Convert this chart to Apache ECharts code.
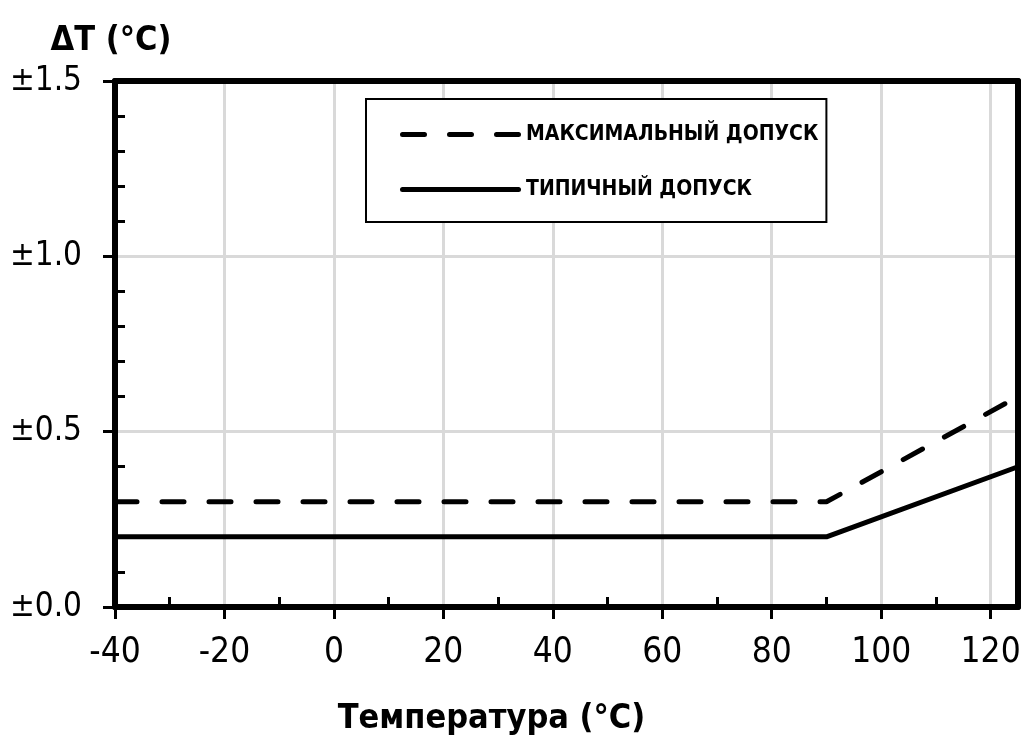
<!DOCTYPE html>
<html>
<head>
<meta charset="utf-8">
<script src="https://cdn.jsdelivr.net/npm/echarts@6/dist/echarts.min.js"></script>
<style>
  html, body { margin: 0; padding: 0; background: #fff; }
  #chart { width: 1026px; height: 749px; }
</style>
</head>
<body>
<div id="chart"></div>
<script>
// values
const tempX = [-40, 90, 125];
const maxTol = [0.3, 0.3, 0.6];
const typTol = [0.2, 0.2, 0.4];
const xTicks = [-40, -20, 0, 20, 40, 60, 80, 100, 120];
const xMinorTicks = [-30, -10, 10, 30, 50, 70, 90, 110];
const yTicks = [0, 0.5, 1.0, 1.5];
const yMinorTicks = [0.1, 0.2, 0.3, 0.4, 0.6, 0.7, 0.8, 0.9, 1.1, 1.2, 1.3, 1.4];
const seriesNames = ['МАКСИМАЛЬНЫЙ ДОПУСК', 'ТИПИЧНЫЙ ДОПУСК'];

const font = '"Liberation Sans Narrow", "Arial Narrow", "DejaVu Sans Condensed", Arial, sans-serif';

// legend glyphs: three rounded dashes / one rounded bar
const dashIcon = 'path://M2.5,0h22a2.5,2.5 0 0 1 0,5h-22a2.5,2.5 0 0 1 0,-5z' +
  'M49.5,0h22a2.5,2.5 0 0 1 0,5h-22a2.5,2.5 0 0 1 0,-5z' +
  'M96.5,0h22a2.5,2.5 0 0 1 0,5h-22a2.5,2.5 0 0 1 0,-5z';
const solidIcon = 'path://M2.5,0h116a2.5,2.5 0 0 1 0,5h-116a2.5,2.5 0 0 1 0,-5z';

const chart = echarts.init(document.getElementById('chart'), null, { renderer: 'canvas' });

function pairs(xs, ys) {
  return xs.map((x, i) => [x, ys[i]]);
}

// top and right edges of the frame
const frameAxis = {
  type: 'value',
  axisLine: { show: true, onZero: false, lineStyle: { color: '#000', width: 6 } },
  axisTick: { show: false },
  axisLabel: { show: false },
  splitLine: { show: false }
};

chart.setOption({
  animation: false,
  grid: { left: 115, right: 8, top: 81, bottom: 142 },
  legend: {
    orient: 'vertical',
    left: 366, top: 99,
    padding: [25, 8, 22, 34],
    itemGap: 34,
    itemWidth: 121, itemHeight: 5,
    borderColor: '#000', borderWidth: 2,
    backgroundColor: '#fff',
    textStyle: { fontFamily: font, fontWeight: 'bold', fontSize: 21, color: '#000' },
    data: [
      { name: seriesNames[0], icon: dashIcon, itemStyle: { color: '#000' } },
      { name: seriesNames[1], icon: solidIcon, itemStyle: { color: '#000' } }
    ]
  },
  xAxis: [{
    type: 'value', min: -40, max: 125,
    name: 'Температура (°C)', nameLocation: 'middle', nameGap: 95,
    nameTextStyle: { fontFamily: font, fontWeight: 'bold', fontSize: 34, color: '#000', padding: [0, 150, 0, 0] },
    axisLine: { show: true, onZero: false, lineStyle: { color: '#000', width: 6 } },
    axisTick: { show: true, length: 12, customValues: xTicks, lineStyle: { color: '#000', width: 3 } },
    axisLabel: { customValues: xTicks, fontFamily: font, fontSize: 35, color: '#000', margin: 28 },
    splitLine: { show: true, lineStyle: { color: '#d9d9d9', width: 3 } }
  }, {
    type: 'value', min: -40, max: 125, position: 'bottom',
    axisLine: { show: false, onZero: false },
    axisTick: { show: true, inside: true, length: 10, customValues: xMinorTicks, lineStyle: { color: '#000', width: 3 } },
    axisLabel: { show: false },
    splitLine: { show: false }
  }, Object.assign({ min: -40, max: 125, position: 'top' }, frameAxis)],
  yAxis: [{
    type: 'value', min: 0, max: 1.5, interval: 0.5,
    name: 'ΔT (°C)', nameLocation: 'end', nameGap: 23,
    nameTextStyle: { fontFamily: font, fontWeight: 'bold', fontSize: 34, color: '#000', align: 'center', padding: [0, 8, 0, 0] },
    axisLine: { show: true, onZero: false, lineStyle: { color: '#000', width: 6 } },
    axisTick: { show: true, length: 12, customValues: yTicks, lineStyle: { color: '#000', width: 3 } },
    axisLabel: {
      customValues: yTicks, fontFamily: font, fontSize: 33, color: '#000', margin: 33,
      formatter: v => '±' + v.toFixed(1)
    },
    splitLine: { show: true, lineStyle: { color: '#d9d9d9', width: 3 } }
  }, {
    type: 'value', min: 0, max: 1.5, position: 'left',
    axisLine: { show: false, onZero: false },
    axisTick: { show: true, inside: true, length: 10, customValues: yMinorTicks, lineStyle: { color: '#000', width: 3 } },
    axisLabel: { show: false },
    splitLine: { show: false }
  }, Object.assign({ min: 0, max: 1.5, position: 'right' }, frameAxis)],
  series: [{
    name: seriesNames[0],
    type: 'line',
    symbol: 'none',
    data: pairs(tempX, maxTol),
    lineStyle: { color: '#000', width: 5, type: [22, 25], cap: 'round' },
    itemStyle: { color: '#000' },
    z: 3
  }, {
    name: seriesNames[1],
    type: 'line',
    symbol: 'none',
    data: pairs(tempX, typTol),
    lineStyle: { color: '#000', width: 5, type: 'solid', cap: 'round' },
    itemStyle: { color: '#000' },
    z: 3
  }]
});
</script>
</body>
</html>
